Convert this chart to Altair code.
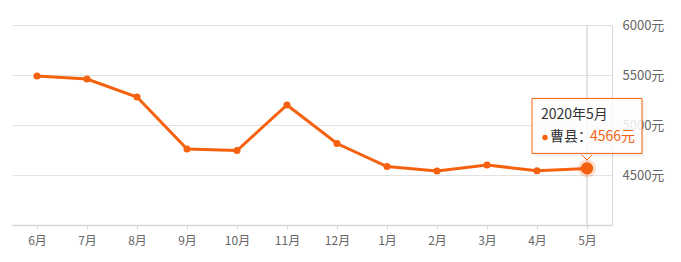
import altair as alt
import pandas as pd

months = ["6月", "7月", "8月", "9月", "10月", "11月", "12月", "1月", "2月", "3月", "4月", "5月"]
prices = [5490, 5460, 5280, 4760, 4745, 5200, 4815, 4585, 4540, 4600, 4543, 4566]
y_ticks = [4500, 5000, 5500, 6000]
tip_title = "2020年5月"
tip_series = "曹县："
tip_value = "4566元"

ORANGE = "#f5620f"
FONT = "Noto Sans CJK SC"

df = pd.DataFrame({"month": months, "price": prices})
last = df.iloc[[-1]].copy()

xs = alt.X("month:N", sort=months,
           scale=alt.Scale(type="point", domain=months, padding=0.5),
           axis=alt.Axis(title=None, labelAngle=0, labelFont=FONT, labelFontSize=12,
                         labelColor="#666", domainColor="#d6d6d6", tickColor="#d6d6d6",
                         tickSize=4, labelPadding=6, grid=False, domainWidth=1.5))
ys = alt.Y("price:Q", scale=alt.Scale(domain=[4000, 6000], nice=False, zero=False),
           axis=alt.Axis(title=None, orient="right", values=y_ticks,
                         labelExpr="datum.value + '元'", labelFont=FONT, labelFontSize=13,
                         labelColor="#666", domainColor="#d6d6d6", ticks=False,
                         labelPadding=10, gridColor="#e2e2e2", domainWidth=1))

base = alt.Chart(df)

line = base.mark_line(color=ORANGE, strokeWidth=3).encode(x=xs, y=ys)
pts = base.mark_circle(color=ORANGE, size=50, opacity=1).encode(x=xs, y=ys)

lb = alt.Chart(last)

cross = lb.mark_rule(color="#c8c8c8", strokeWidth=1).encode(
    x=xs, y=alt.value(0), y2=alt.value(200))
halo = lb.mark_circle(color=ORANGE, size=330, opacity=0.2).encode(x=xs, y=ys)
big = lb.mark_circle(color=ORANGE, size=150, opacity=1).encode(x=xs, y=ys)

shadow = lb.mark_rect(fill="#000", opacity=0.05, xOffset=-53, x2Offset=57,
                      yOffset=-68, y2Offset=-12).encode(
    x=xs, x2=alt.X2("month:N"), y=ys, y2=alt.Y2("price:Q"))
box = lb.mark_rect(fill="white", fillOpacity=0.85, stroke=ORANGE, strokeWidth=1,
                   xOffset=-55, x2Offset=55, yOffset=-70, y2Offset=-15).encode(
    x=xs, x2=alt.X2("month:N"), y=ys, y2=alt.Y2("price:Q"))
pointer = lb.mark_point(shape="M -1 -0.5 L 0 0.5 L 1 -0.5", filled=True, fill="white",
                        stroke=ORANGE, strokeWidth=1, size=110, opacity=1,
                        yOffset=-11).encode(x=xs, y=ys)

t1 = lb.mark_text(text=tip_title, font=FONT, fontSize=14, color="#333", align="left",
                  baseline="middle", dx=-46, dy=-53).encode(x=xs, y=ys)
dot = lb.mark_circle(color=ORANGE, size=30, opacity=1, xOffset=-42, yOffset=-31).encode(x=xs, y=ys)
t2 = lb.mark_text(text=tip_series, font=FONT, fontSize=14, color="#333", align="left",
                  baseline="middle", dx=-37, dy=-31).encode(x=xs, y=ys)
t3 = lb.mark_text(text=tip_value, font=FONT, fontSize=14, color=ORANGE, align="left",
                  baseline="middle", dx=3, dy=-31).encode(x=xs, y=ys)

chart = alt.layer(line, cross, pts, halo, big, shadow, box, pointer, t1, dot, t2, t3).properties(
    width=600, height=200,
    background="white",
    autosize=alt.AutoSizeParams(type="none"),
    padding={"left": 12, "top": 25, "right": 69, "bottom": 37},
).configure_view(stroke="transparent", strokeWidth=0)

chart.save("out.html", embed_options={"renderer": "svg", "actions": False})
